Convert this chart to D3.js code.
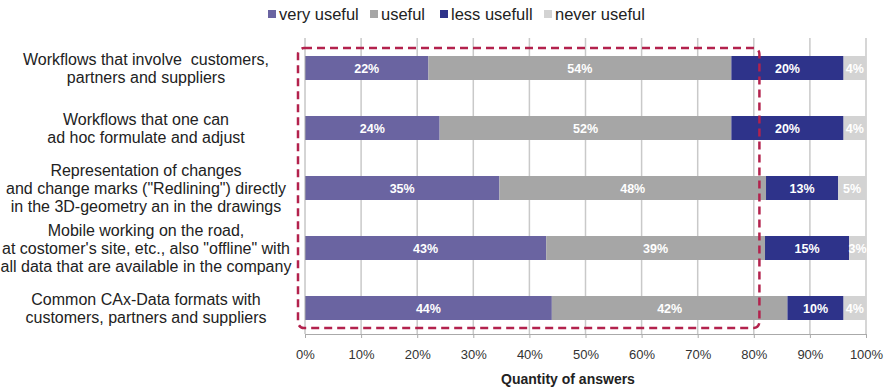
<!DOCTYPE html>
<html>
<head>
<meta charset="utf-8">
<script src="https://cdn.jsdelivr.net/npm/d3@7"></script>
<style>
  body { margin: 0; background: #fff; }
  svg { display: block; font-family: "Liberation Sans", Arial, Helvetica, sans-serif; }
</style>
</head>
<body>
<svg id="chart" width="886" height="389"></svg>
<script>
// categories (top to bottom), each one an array of text lines
const categories = [
  ["Workflows that involve  customers,", "partners and suppliers"],
  ["Workflows that one can", "ad hoc formulate and adjust"],
  ["Representation of changes", "and change marks (\"Redlining\") directly", "in the 3D-geometry an in the drawings"],
  ["Mobile working on the road,", "at costomer's site, etc., also \"offline\" with", "all data that are available in the company"],
  ["Common CAx-Data formats with", "customers, partners and suppliers"]
];
const seriesNames = ["very useful", "useful", "less usefull", "never useful"];
const veryUseful = [22, 24, 35, 43, 44];
const useful = [54, 52, 48, 39, 42];
const lessUseful = [20, 20, 13, 15, 10];
const neverUseful = [4, 4, 5, 3, 4];
const xTicks = [0, 0.1, 0.2, 0.3, 0.4, 0.5, 0.6, 0.7, 0.8, 0.9, 1];
const highlightUpTo = 0.81; // dashed box around "very useful" + "useful"

const colors = ["#6a64a1", "#a6a6a6", "#2e338a", "#d3d3d3"];

const svg = d3.select('#chart');
const plotTop = 38, plotBottom = 334;

const rows = categories.map((c, i) => ({
  id: i,
  "very useful": veryUseful[i],
  "useful": useful[i],
  "less usefull": lessUseful[i],
  "never useful": neverUseful[i]
}));

const stacked = d3.stack()
  .keys(seriesNames)
  .offset(d3.stackOffsetExpand)(rows);

const x = d3.scaleLinear().domain([0, 1]).range([305, 866]);
const y = d3.scaleBand()
  .domain(rows.map(d => d.id))
  .range([plotTop, plotTop + 300])
  .paddingInner(0.6)
  .paddingOuter(0.3);

// vertical grid lines
svg.append('g')
  .selectAll('line')
  .data(xTicks.slice(1))
  .enter()
  .append('line')
  .attr('x1', d => x(d)).attr('x2', d => x(d))
  .attr('y1', plotTop).attr('y2', plotBottom)
  .attr('stroke', '#c9c9c9')
  .attr('stroke-width', 1.5);

// bars
const layer = svg.append('g')
  .selectAll('g')
  .data(stacked)
  .enter()
  .append('g')
  .attr('fill', (d, i) => colors[i]);

layer.selectAll('rect')
  .data(d => d)
  .enter()
  .append('rect')
  .attr('x', d => x(d[0]))
  .attr('y', d => y(d.data.id))
  .attr('width', d => x(d[1]) - x(d[0]))
  .attr('height', y.bandwidth());

// bar labels
const labels = svg.append('g');
stacked.forEach((s, si) => {
  labels.selectAll(null)
    .data(s)
    .enter()
    .append('text')
    .attr('x', d => (x(d[0]) + x(d[1])) / 2)
    .attr('y', d => y(d.data.id) + y.bandwidth() / 2)
    .attr('dy', '0.36em')
    .attr('text-anchor', 'middle')
    .attr('fill', '#fff')
    .attr('font-weight', 'bold')
    .attr('font-size', 12.5)
    .text(d => d.data[s.key] + '%');
});

// y axis line
svg.append('line')
  .attr('x1', x(0)).attr('x2', x(0))
  .attr('y1', plotTop).attr('y2', plotBottom)
  .attr('stroke', '#aaa');

// category labels
const catG = svg.append('g')
  .attr('font-size', 16)
  .attr('fill', '#222')
  .attr('text-anchor', 'middle');
categories.forEach((lines, i) => {
  const cy = y(i) + y.bandwidth() / 2;
  const t = catG.append('text')
    .attr('x', 146)
    .attr('y', cy - (lines.length - 1) * 9);
  lines.forEach((ln, j) => {
    t.append('tspan')
      .attr('x', 146)
      .attr('dy', j === 0 ? '0.36em' : 18)
      .text(ln.replace(/  /g, ' \u00a0'));
  });
});

// x axis
const xAxis = d3.axisBottom(x)
  .tickValues(xTicks)
  .tickFormat(d3.format('.0%'))
  .tickSize(4)
  .tickPadding(12);
const xg = svg.append('g')
  .attr('transform', `translate(0,${plotBottom})`)
  .call(xAxis);
xg.select('.domain').attr('stroke', '#aaa');
xg.selectAll('.tick line').attr('stroke', '#aaa');
xg.selectAll('.tick text')
  .attr('font-size', 13)
  .attr('fill', '#333')
  .attr('font-family', '"Liberation Sans", Arial, sans-serif');

svg.append('text')
  .attr('x', 568)
  .attr('y', 384)
  .attr('text-anchor', 'middle')
  .attr('font-size', 14)
  .attr('font-weight', 'bold')
  .attr('fill', '#222')
  .text('Quantity of answers');

// dashed highlight box
const boxTop = y(0) - 8;
const boxBottom = y(rows.length - 1) + y.bandwidth() + 8;
svg.append('rect')
  .attr('x', x(0) - 7)
  .attr('y', boxTop)
  .attr('width', x(highlightUpTo) - x(0) + 7)
  .attr('height', boxBottom - boxTop)
  .attr('rx', 6)
  .attr('fill', 'none')
  .attr('stroke', '#b3224d')
  .attr('stroke-width', 2.5)
  .attr('stroke-dasharray', '8,5');

// legend
const legendX = [268, 370, 440, 544];
const legend = svg.append('g')
  .selectAll('g')
  .data(seriesNames)
  .enter()
  .append('g')
  .attr('transform', (d, i) => `translate(${legendX[i]},10)`);
legend.append('rect')
  .attr('width', 8).attr('height', 8)
  .attr('fill', (d, i) => colors[i]);
legend.append('text')
  .attr('x', 11)
  .attr('y', 4)
  .attr('dy', '0.36em')
  .attr('font-size', 16.5)
  .attr('fill', '#222')
  .text(d => d);
</script>
</body>
</html>
